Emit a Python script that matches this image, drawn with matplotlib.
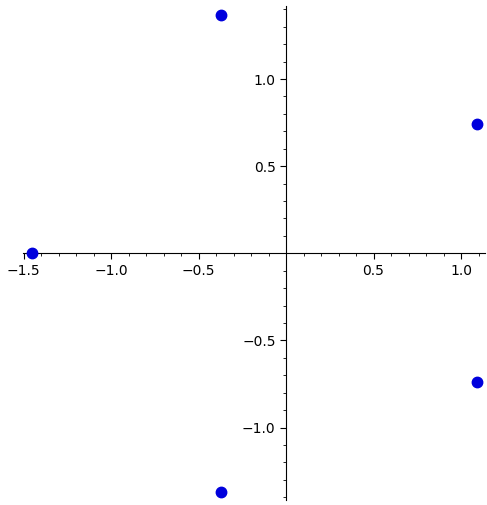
import matplotlib
matplotlib.use("Agg")
import matplotlib.pyplot as plt
from matplotlib.ticker import MultipleLocator

re_vals = [-1.451, -0.371, -0.371, 1.091, 1.091]
im_vals = [0.0, 1.368, -1.368, 0.741, -0.738]

xlim = (-1.503, 1.137)
ylim = (-1.416, 1.419)

fig = plt.figure(figsize=(4.87, 5.05), dpi=100)
ax = fig.add_axes([23/487, 5/505, 462/487, 494/505])

ax.plot(re_vals, im_vals, 'o', color='#0000dd', markersize=7.5, linestyle='none', zorder=5)

ax.set_xlim(*xlim)
ax.set_ylim(*ylim)

# axes through the origin
ax.spines['left'].set_position(('data', 0))
ax.spines['bottom'].set_position(('data', 0))
ax.spines['right'].set_visible(False)
ax.spines['top'].set_visible(False)

ax.xaxis.set_minor_locator(MultipleLocator(0.1))
ax.yaxis.set_minor_locator(MultipleLocator(0.1))

xt = [-1.5, -1.0, -0.5, 0.5, 1.0]
yt = [-1.0, -0.5, 0.5, 1.0]
ax.set_xticks(xt)
ax.set_yticks(yt)
ax.set_xticklabels(['\u22121.5', '\u22121.0', '\u22120.5', '0.5', '1.0'])
ax.set_yticklabels(['\u22121.0', '\u22120.5', '0.5', '1.0'])

ax.tick_params(which='major', length=4, labelsize=10)
ax.tick_params(which='minor', length=2)

fig.savefig('out.png', dpi=100)
